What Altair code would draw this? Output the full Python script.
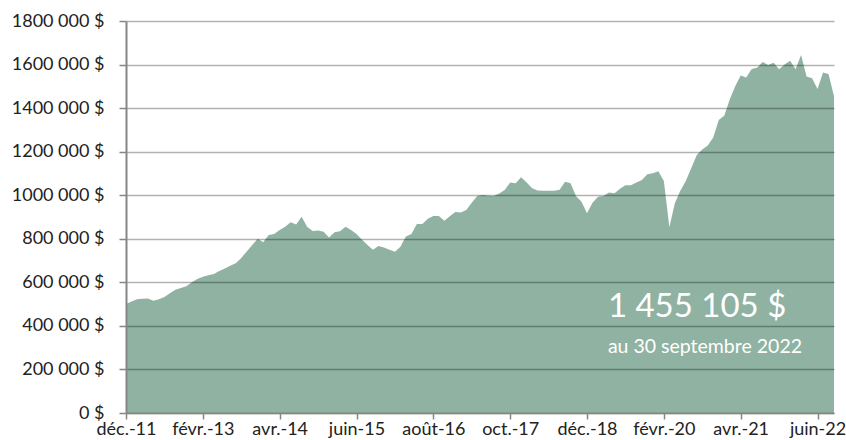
import altair as alt
import pandas as pd

# Monthly portfolio value, déc. 2011 -> sept. 2022 (thousands of $)
values_k = [
    500, 512, 522, 525, 526, 516, 522, 533, 550, 566,
    574, 582, 600, 615, 626, 632, 638, 652, 663, 676,
    688, 712, 742, 772, 800, 784, 817, 822, 840, 855,
    876, 866, 901, 855, 836, 838, 832, 806, 830, 834,
    855, 840, 822, 795, 772, 750, 767, 760, 750, 741,
    763, 810, 822, 868, 868, 892, 905, 905, 883, 903,
    923, 921, 932, 965, 997, 1001, 998, 996, 1008, 1024,
    1058, 1055, 1082, 1058, 1032, 1022, 1021, 1021, 1021, 1025,
    1062, 1055, 995, 970, 917, 965, 993, 996, 1012, 1009,
    1030, 1046, 1046, 1058, 1070, 1096, 1101, 1110, 1065, 853,
    963, 1020, 1065, 1125, 1185, 1210, 1228, 1265, 1345, 1365,
    1440, 1500, 1550, 1541, 1580, 1585, 1612, 1598, 1608, 1578,
    1600, 1618, 1578, 1644, 1545, 1537, 1488, 1563, 1557, 1455,
]

tick_labels = ["déc.-11", "févr.-13", "avr.-14", "juin-15", "août-16",
               "oct.-17", "déc.-18", "févr.-20", "avr.-21", "juin-22"]
tick_index = [0, 14, 28, 42, 56, 70, 84, 98, 112, 126]

y_ticks = [0, 200000, 400000, 600000, 800000, 1000000, 1200000, 1400000, 1600000, 1800000]
y_labels = ["0 $", "200 000 $", "400 000 $", "600 000 $", "800 000 $", "1000 000 $",
            "1200 000 $", "1400 000 $", "1600 000 $", "1800 000 $"]

annot_big = "1 455 105 $"
annot_small = "au 30 septembre 2022"

df = pd.DataFrame({"i": list(range(len(values_k))), "v": [v * 1000 for v in values_k]})

FONT = "Lato"
x_label_expr = "{" + ",".join(f"'{i}':'{l}'" for i, l in zip(tick_index, tick_labels)) + "}[''+datum.value]"
y_label_expr = "[" + ",".join(f"'{l}'" for l in y_labels) + "][round(datum.value/200000)]"

x_enc = alt.X("i:Q", scale=alt.Scale(domain=[0, len(values_k) - 1], nice=False, zero=False),
              axis=alt.Axis(values=tick_index, labelExpr=x_label_expr, title=None, grid=False,
                            tickSize=6, tickColor="#868686", tickWidth=1.5,
                            domainColor="#868686", domainWidth=1.5,
                            labelFont=FONT, labelFontSize=18, labelColor="#222222",
                            labelPadding=1, labelFlush=False, labelOverlap=False, zindex=1))
y_enc = alt.Y("v:Q", scale=alt.Scale(domain=[0, 1800000], nice=False),
              axis=alt.Axis(values=y_ticks, labelExpr=y_label_expr, title=None, grid=True,
                            gridColor="#000000", gridOpacity=0.3, gridWidth=1.3,
                            tickSize=7, tickColor="#868686", tickWidth=1.5,
                            domainColor="#868686", domainWidth=2,
                            labelFont=FONT, labelFontSize=18, labelColor="#222222",
                            labelPadding=15, zindex=1))

area = alt.Chart(df).mark_area(color="#8FB2A2").encode(x=x_enc, y=y_enc)

ann = pd.DataFrame({"x": [87.8, 87.8], "y": [441000, 275000], "t": [annot_big, annot_small]})
t1 = alt.Chart(ann.iloc[[0]]).mark_text(align="left", baseline="alphabetic", color="white",
                                         font=FONT, fontSize=33).encode(x="x:Q", y="y:Q", text="t:N")
t2 = alt.Chart(ann.iloc[[1]]).mark_text(align="left", baseline="alphabetic", color="white",
                                         font=FONT, fontSize=19.5).encode(x="x:Q", y="y:Q", text="t:N")

chart = alt.layer(area, t1, t2).properties(
    width=708, height=392,
    padding={"left": 126, "top": 21, "right": 12, "bottom": 27},
    autosize=alt.AutoSizeParams(type="none"),
).configure_view(stroke=None)

chart.save("out.html", embed_options={"renderer": "svg", "actions": False})
